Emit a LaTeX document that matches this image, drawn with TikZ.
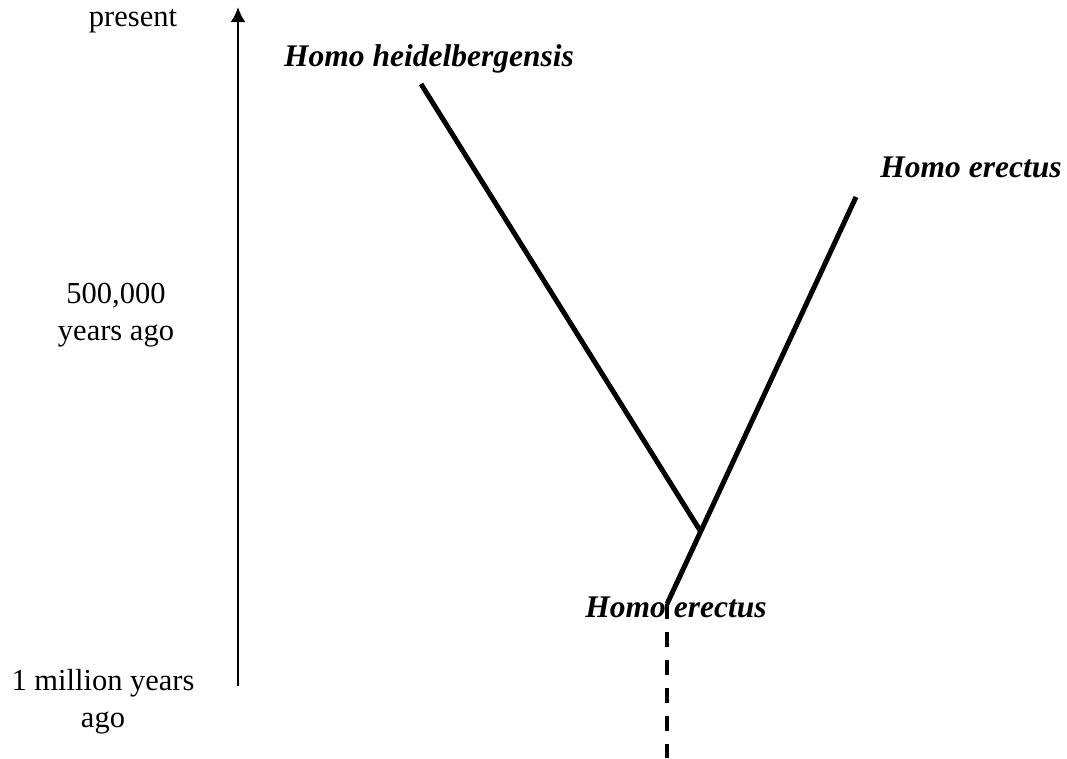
\documentclass[tikz,border=0pt]{standalone}
\usepackage{fontspec}
\setmainfont{Liberation Serif}
\usetikzlibrary{arrows.meta}
\newlength{\du}
\setlength{\du}{1pt}
\tikzset{
  timelabel/.style={font=\fontsize{30.5}{37}\selectfont, align=center, inner sep=0pt},
  taxonlabel/.style={font=\fontsize{31.5}{37}\selectfont\bfseries\itshape, inner sep=0pt, anchor=base},
  branchline/.style={line width=5.000000\du, line cap=butt},
}

\begin{document}
\begin{tikzpicture}
\pgftransformxscale{1.000000}
\pgftransformyscale{-1.000000}
\definecolor{dialinecolor}{rgb}{0.000000, 0.000000, 0.000000}
\pgfsetstrokecolor{dialinecolor}
\definecolor{dialinecolor}{rgb}{1.000000, 1.000000, 1.000000}
\pgfsetfillcolor{dialinecolor}
\useasboundingbox (0\du,0\du) rectangle (1067.000000\du,758.000000\du);
\fill[white] (0\du,0\du) rectangle (1067.000000\du,758.000000\du);
% time axis
\coordinate (axisbottom) at (238.000000\du,686.000000\du);
\coordinate (axistop) at (238.000000\du,7.000000\du);
\definecolor{dialinecolor}{rgb}{0.000000, 0.000000, 0.000000}
\pgfsetstrokecolor{dialinecolor}
\draw[line width=2.600000\du, -{Latex[length=15pt, width=15pt]}] (axisbottom)--(axistop);
% setfont left to latex
\node[timelabel, anchor=base] (present) at (133.000000\du,26.000000\du){present};
\node[timelabel] (halfmillion) at (116.000000\du,315.500000\du){500,000\\years ago};
\node[timelabel] (onemillion) at (103.000000\du,701.500000\du){1 million years\\ago};
% branches
\coordinate (heidelbergtip) at (421.000000\du,84.000000\du);
\coordinate (erectustip) at (856.000000\du,197.000000\du);
\coordinate (split) at (701.000000\du,532.000000\du);
\coordinate (erectusroot) at (667.000000\du,604.000000\du);
\coordinate (rootend) at (667.000000\du,758.000000\du);
\pgfsetlinewidth{5.000000\du}
\pgfsetdash{}{0pt}
\pgfsetbuttcap
{
\definecolor{dialinecolor}{rgb}{0.000000, 0.000000, 0.000000}
\pgfsetstrokecolor{dialinecolor}
\draw[branchline] (heidelbergtip)--(split);
\draw[branchline] (erectustip)--(erectusroot);
\draw[line width=3.500000\du, dash pattern=on 15pt off 13pt] (erectusroot)--(rootend);
}
% setfont left to latex
\node[taxonlabel] (heidelbergensis) at (429.000000\du,66.000000\du){Homo heidelbergensis};
\node[taxonlabel] (erectuslate) at (971.000000\du,177.000000\du){Homo erectus};
\node[taxonlabel] (erectusearly) at (676.000000\du,617.000000\du){Homo erectus};
\end{tikzpicture}
\end{document}
